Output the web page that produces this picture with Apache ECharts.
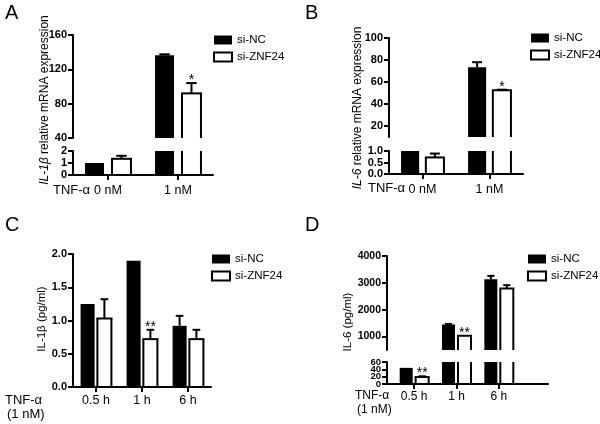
<!DOCTYPE html>
<html><head><meta charset="utf-8">
<script src="https://cdn.jsdelivr.net/npm/echarts@6/dist/echarts.min.js"></script>
<style>html,body{margin:0;padding:0;background:#fff}#c{width:600px;height:424px}</style>
</head><body><div id="c"></div>
<script>
// ---- data ----
const catsA = ['0 nM', '1 nM'];
const ncA = [1.0, 136.5];
const ncErrA = [0, 1];
const znfA = [1.35, 92];
const znfErrA = [0.25, 12];
const starsA = ['', '*'];

const catsB = ['0 nM', '1 nM'];
const ncB = [1.0, 73.5];
const ncErrB = [0, 4.5];
const znfB = [0.72, 52.5];
const znfErrB = [0.17, 0.5];
const starsB = ['', '*'];

const catsC = ['0.5 h', '1 h', '6 h'];
const ncC = [1.25, 1.9, 0.92];
const ncErrC = [0, 0, 0.15];
const znfC = [1.03, 0.72, 0.72];
const znfErrC = [0.29, 0.14, 0.14];
const starsC = ['', '**', ''];

const catsD = ['0.5 h', '1 h', '6 h'];
const ncD = [44, 1450, 3130];
const ncErrD = [0, 20, 130];
const znfD = [19, 1030, 2790];
const znfErrD = [2, 0, 125];
const starsD = ['**', '**', ''];

// lower-segment tick labels of panel D, split over two label rows so none is dropped
const dLowLabelsA = [0, 40];
const dLowLabelsB = [20, 60];

const seriesNames = ['si-NC', 'si-ZNF24'];

// ---- styling ----
const FONT = '"Liberation Sans", Arial, sans-serif';
const BLACK = '#000';

function rowsOf(vals, errs) { return vals.map((v, i) => [i, v, errs[i]]); }

function makeRender(side, barRatio, gapRatio, filled, stars) {
  return function (params, api) {
    const cat = api.value(0), v = api.value(1), e = api.value(2);
    const cs = params.coordSys;
    const p = api.coord([cat, v]);
    const cx = p[0], yTop = p[1];
    const yBase = api.coord([cat, 0])[1];
    const band = api.size([1, 0])[0];
    const bw = band * barRatio, gap = band * gapRatio;
    const x0 = side < 0 ? cx - gap / 2 - bw : cx + gap / 2;
    const top = Math.max(yTop, cs.y);
    const bot = Math.min(yBase, cs.y + cs.height);
    if (top >= bot) return null;
    const ch = [];
    const ls = { stroke: BLACK, lineWidth: 2 };
    if (filled) {
      ch.push({ type: 'rect', shape: { x: x0, y: top, width: bw, height: bot - top }, style: { fill: BLACK } });
    } else {
      ch.push({ type: 'rect', shape: { x: x0, y: top, width: bw, height: bot - top }, style: { fill: '#fff' } });
      ch.push({ type: 'line', shape: { x1: x0, y1: top, x2: x0, y2: bot }, style: ls });
      ch.push({ type: 'line', shape: { x1: x0 + bw, y1: top, x2: x0 + bw, y2: bot }, style: ls });
      if (yTop >= cs.y - 0.5) {
        ch.push({ type: 'line', shape: { x1: x0 - 1, y1: yTop, x2: x0 + bw + 1, y2: yTop }, style: ls });
      }
    }
    const mid = x0 + bw / 2;
    let yMark = yTop;
    if (yTop >= cs.y - 0.5) {
      if (e > 0) {
        const yE = api.coord([cat, v + e])[1];
        const capW = bw * 0.55;
        ch.push({ type: 'line', shape: { x1: mid, y1: yTop, x2: mid, y2: yE }, style: ls });
        ch.push({ type: 'line', shape: { x1: mid - capW / 2, y1: yE, x2: mid + capW / 2, y2: yE }, style: ls });
        yMark = yE;
      }
      const s = stars ? stars[params.dataIndex] : '';
      if (s) {
        ch.push({ type: 'text', x: mid, y: yMark - 3, style: { text: s, fontSize: 14, fontFamily: FONT, fill: BLACK, align: 'center', verticalAlign: 'middle' } });
      }
    }
    return { type: 'group', children: ch };
  };
}

function barPair(xi, yi, ncV, ncE, znV, znE, stars, barRatio, gapRatio) {
  return [
    { name: seriesNames[0], type: 'custom', xAxisIndex: xi, yAxisIndex: yi, data: rowsOf(ncV, ncE),
      itemStyle: { color: BLACK }, renderItem: makeRender(-1, barRatio, gapRatio, true, null), z: 2 },
    { name: seriesNames[1], type: 'custom', xAxisIndex: xi, yAxisIndex: yi, data: rowsOf(znV, znE),
      itemStyle: { color: '#fff' }, renderItem: makeRender(1, barRatio, gapRatio, false, stars), z: 2 }
  ];
}

const lineStyle = { color: BLACK, width: 2 };
function yLabel(size, fmt, extra) {
  return Object.assign({ color: BLACK, fontSize: size, fontWeight: 'bold', fontFamily: FONT, margin: 6,
    hideOverlap: false, showMinLabel: true, showMaxLabel: true, formatter: fmt }, extra || {});
}
const plain = v => String(v);
const oneDec = v => v.toFixed(1);
const only = list => (v => list.indexOf(v) >= 0 ? String(v) : '');
function yAx(grid, min, max, opt) {
  return Object.assign({
    type: 'value', gridIndex: grid, min: min, max: max, z: 10, position: 'left',
    axisLine: { show: true, lineStyle: lineStyle },
    axisTick: { show: true, length: 5, lineStyle: lineStyle },
    axisLabel: yLabel(11, plain),
    splitLine: { show: false }
  }, opt || {});
}
function xAx(grid, cats, show, opt) {
  return Object.assign({
    type: 'category', gridIndex: grid, data: cats, show: show, z: 10,
    axisLine: { show: true, lineStyle: lineStyle },
    axisTick: { show: true, alignWithLabel: true, length: 5, lineStyle: lineStyle },
    axisLabel: { color: BLACK, fontSize: 12.5, fontFamily: FONT, margin: 9 },
    splitLine: { show: false }
  }, opt || {});
}

function legendAt(left, top) {
  return {
    orient: 'vertical', left: left, top: top, icon: 'rect', itemWidth: 18, itemHeight: 9, itemGap: 3,
    selectedMode: false, padding: 0,
    textStyle: { fontSize: 11.5, fontFamily: FONT, color: BLACK, lineHeight: 14 },
    data: [
      { name: seriesNames[0], itemStyle: { color: BLACK, borderWidth: 0 } },
      { name: seriesNames[1], itemStyle: { color: '#fff', borderColor: BLACK, borderWidth: 2 } }
    ]
  };
}

function txt(x, y, text, size, opt) {
  return { type: 'text', x: x, y: y, style: Object.assign({ text: text, fontSize: size, fontFamily: FONT, fill: BLACK, align: 'left', verticalAlign: 'middle' }, opt || {}) };
}
function vtitle(x, y, text, size, rich) {
  return { type: 'text', x: x, y: y, rotation: Math.PI / 2,
    style: { text: text, fontSize: size, fontFamily: FONT, fill: BLACK, align: 'center', verticalAlign: 'middle', rich: rich || {} } };
}
const italic = { i: { fontStyle: 'italic', fontSize: 12, fontFamily: FONT, fill: BLACK } };

const option = {
  backgroundColor: '#fff',
  animation: false,
  grid: [
    { left: 73, top: 35, width: 140, height: 103 },
    { left: 73, top: 151, width: 140, height: 24 },
    { left: 389, top: 38, width: 134, height: 99 },
    { left: 389, top: 151, width: 134, height: 23 },
    { left: 73, top: 254, width: 138, height: 133 },
    { left: 393, top: 256, width: 127, height: 94 },
    { left: 393, top: 362, width: 127, height: 22 },
    { left: 387, top: 362, width: 161, height: 22 }
  ],
  xAxis: [
    xAx(0, catsA, false),
    xAx(1, catsA, true),
    xAx(2, catsB, false),
    xAx(3, catsB, true),
    xAx(4, catsC, true, { axisLabel: { color: BLACK, fontSize: 12.5, fontFamily: FONT, margin: 7 } }),
    xAx(5, catsD, false),
    xAx(6, catsD, true, { axisLine: { show: false }, axisLabel: { color: BLACK, fontSize: 12, fontFamily: FONT, margin: 7 } }),
    { type: 'value', gridIndex: 7, min: 0, max: 1, z: 10, axisLine: { show: true, lineStyle: lineStyle },
      axisTick: { show: false }, axisLabel: { show: false }, splitLine: { show: false } }
  ],
  yAxis: [
    yAx(0, 40, 160, { interval: 40 }),
    yAx(1, 0, 2, { interval: 1 }),
    yAx(2, 10, 100, { splitNumber: 5, axisLabel: yLabel(11, plain, { showMinLabel: false }) }),
    yAx(3, 0, 1, { interval: 0.5, axisLabel: yLabel(11, oneDec) }),
    yAx(4, 0, 2, { interval: 0.5, axisLabel: yLabel(11, oneDec) }),
    yAx(5, 500, 4000, { offset: 6, splitNumber: 5, axisLabel: yLabel(10.5, plain, { showMinLabel: false }) }),
    yAx(6, 0, 60, { offset: 6, interval: 20, axisLabel: yLabel(9.5, only(dLowLabelsA)) }),
    { type: 'value', gridIndex: 7, show: false, min: 0, max: 1 },
    yAx(6, 0, 60, { offset: 6, interval: 20, axisLine: { show: false }, axisTick: { show: false },
      axisLabel: yLabel(9.5, only(dLowLabelsB)) })
  ],
  legend: [legendAt(213, 33), legendAt(530, 31), legendAt(211, 252), legendAt(527, 252)],
  series: [].concat(
    barPair(0, 0, ncA, ncErrA, znfA, znfErrA, starsA, 0.271, 0.114),
    barPair(1, 1, ncA, ncErrA, znfA, znfErrA, starsA, 0.271, 0.114),
    barPair(2, 2, ncB, ncErrB, znfB, znfErrB, starsB, 0.27, 0.10),
    barPair(3, 3, ncB, ncErrB, znfB, znfErrB, starsB, 0.27, 0.10),
    barPair(4, 4, ncC, ncErrC, znfC, znfErrC, starsC, 0.305, 0.06),
    barPair(5, 5, ncD, ncErrD, znfD, znfErrD, starsD, 0.307, 0.07),
    barPair(6, 6, ncD, ncErrD, znfD, znfErrD, starsD, 0.307, 0.07)
  ),
  graphic: [
    txt(5, 13, 'A', 20),
    txt(305, 13, 'B', 20),
    txt(5, 225, 'C', 20),
    txt(305, 225, 'D', 20),
    vtitle(45, 100, '{i|IL-1β} relative mRNA expression', 12, italic),
    vtitle(358, 108, '{i|IL-6} relative mRNA expression', 12, italic),
    vtitle(42, 319, 'IL-1β (pg/ml)', 11.5),
    vtitle(348, 322, 'IL-6 (pg/ml)', 11.5),
    txt(53, 190, 'TNF-α', 13),
    txt(368, 188, 'TNF-α', 13),
    txt(5, 400, 'TNF-α', 13),
    txt(7, 414, '(1 nM)', 13),
    txt(355, 396, 'TNF-α', 12),
    txt(357, 410, '(1 nM)', 12)
  ]
};

const chart = echarts.init(document.getElementById('c'), null, { renderer: 'canvas' });
chart.setOption(option);
</script>
</body></html>
